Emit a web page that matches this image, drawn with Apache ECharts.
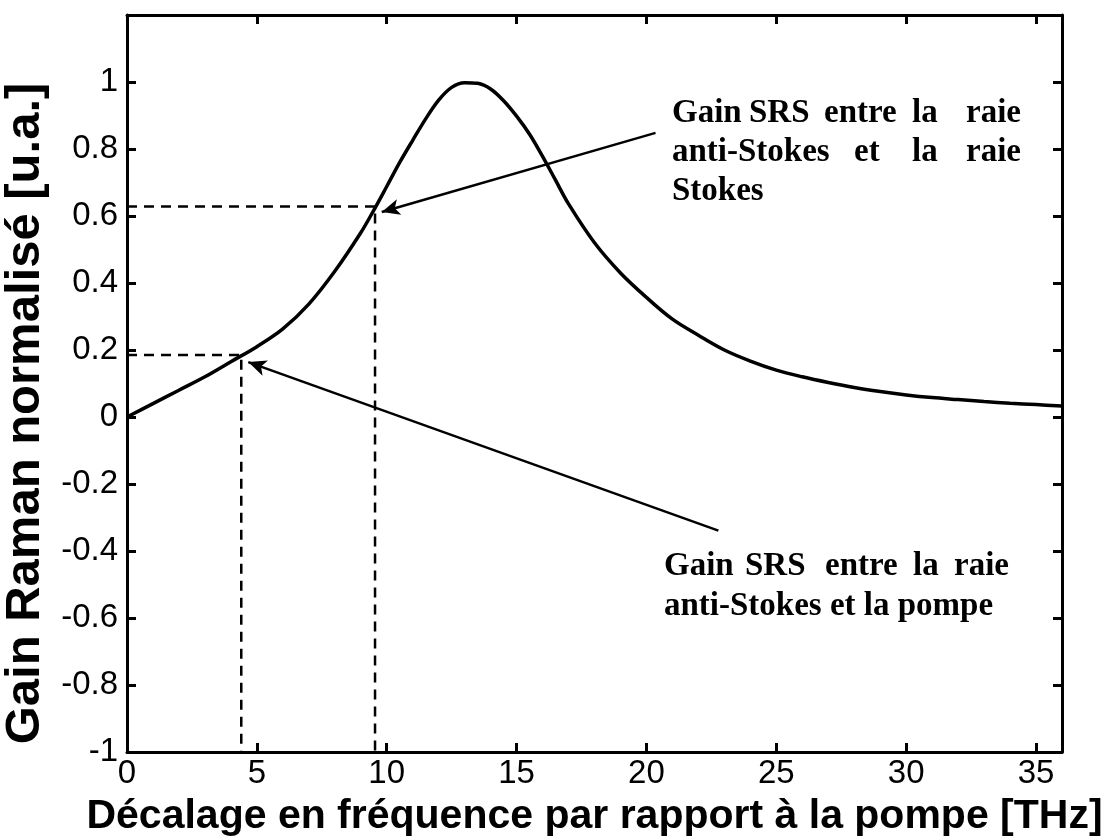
<!DOCTYPE html>
<html>
<head>
<meta charset="utf-8">
<script src="https://cdn.jsdelivr.net/npm/echarts@6/dist/echarts.min.js"></script>
<style>
  html, body { margin: 0; padding: 0; background: #fff; }
  #main { width: 1109px; height: 840px; }
</style>
</head>
<body>
<div id="main"></div>
<script>
var freq = [0, 1, 2, 3, 4, 5, 6, 7, 8, 9, 9.5, 10, 10.5, 11, 11.5, 12, 12.5, 13, 13.5, 14, 14.5, 15, 15.5, 16, 16.5, 17, 18, 19, 20,
  21, 22, 23, 24, 25, 26, 27, 28, 29, 30, 31, 32, 33, 34, 35, 36];
var gain = [0, 0.04, 0.08, 0.12, 0.165, 0.21, 0.263, 0.337, 0.435, 0.55, 0.617, 0.688, 0.76, 0.826, 0.89, 0.946, 0.984, 0.998, 0.996, 0.979, 0.944, 0.898, 0.844, 0.778, 0.707, 0.636, 0.52, 0.43, 0.357,
  0.292, 0.244, 0.2, 0.167, 0.14, 0.12, 0.103, 0.088, 0.076, 0.066, 0.058, 0.052, 0.046, 0.041, 0.037, 0.033];

// lignes pointillées (pompe / Stokes)
var guidePompeX = [0, 4.4, 4.4];
var guidePompeY = [0.185, 0.185, -1];
var guideStokesX = [0, 9.55, 9.55];
var guideStokesY = [0.628, 0.628, -1];

// flèches
var arrowStokesFrom = [20.35, 0.848];
var arrowStokesTo = [9.81, 0.612];
var arrowPompeFrom = [22.77, -0.339];
var arrowPompeTo = [4.67, 0.164];

var xMin = 0, xMax = 36, xStep = 5;
var yMin = -1, yMax = 1.2, yStep = 0.2;

function pairs(xs, ys) {
  return xs.map(function (x, i) { return [x, ys[i]]; });
}

var chart = echarts.init(document.getElementById('main'));

var axisLine = { show: true, onZero: false, lineStyle: { color: '#000', width: 3 } };
var axisTick = { show: true, inside: true, length: 9, lineStyle: { color: '#000', width: 3 } };
var tickFont = { color: '#000', fontFamily: 'Liberation Sans', fontSize: 33 };

var serifBold = 'bold 33px "Liberation Serif"';
function word(t, x, y) {
  return { type: 'text', x: x, y: y, silent: true,
    style: { text: t, font: serifBold, fill: '#000', verticalAlign: 'middle', align: 'left' } };
}

var option = {
  animation: false,
  backgroundColor: '#fff',
  grid: { left: 127, right: 47, top: 15, bottom: 88, containLabel: false, outerBoundsMode: 'none' },
  xAxis: [
    {
      type: 'value', min: xMin, max: xMax, interval: xStep,
      name: 'Décalage en fréquence par rapport à la pompe [THz]',
      nameLocation: 'middle', nameGap: 44,
      nameTextStyle: { color: '#000', fontFamily: 'Liberation Sans', fontWeight: 'bold', fontSize: 41 },
      axisLine: axisLine, axisTick: axisTick,
      axisLabel: Object.assign({ margin: 5, showMaxLabel: false }, tickFont),
      splitLine: { show: false }
    },
    {
      type: 'value', min: xMin, max: xMax, interval: xStep, position: 'top',
      axisLine: axisLine, axisTick: axisTick, axisLabel: { show: false }, splitLine: { show: false }
    }
  ],
  yAxis: [
    {
      type: 'value', min: yMin, max: yMax, interval: yStep,
      name: 'Gain Raman normalisé [u.a.]',
      nameLocation: 'middle', nameGap: 63, nameRotate: 90,
      nameTextStyle: { color: '#000', fontFamily: 'Liberation Sans', fontWeight: 'bold', fontSize: 49,
        padding: [0, 60, 0, 0] },
      axisLine: axisLine, axisTick: axisTick,
      axisLabel: Object.assign({ margin: 9, showMaxLabel: false,
        formatter: function (v) { return String(Math.round(v * 10) / 10); } }, tickFont),
      splitLine: { show: false }
    },
    {
      type: 'value', min: yMin, max: yMax, interval: yStep, position: 'right',
      axisLine: axisLine, axisTick: axisTick, axisLabel: { show: false }, splitLine: { show: false }
    }
  ],
  series: [
    {
      type: 'line', data: pairs(freq, gain), showSymbol: false, smooth: 0.35,
      lineStyle: { color: '#000', width: 3.5 }, z: 5
    },
    {
      type: 'line', data: pairs(guidePompeX, guidePompeY), showSymbol: false,
      lineStyle: { color: '#000', width: 2.5, type: [10, 7] }
    },
    {
      type: 'line', data: pairs(guideStokesX, guideStokesY), showSymbol: false,
      lineStyle: { color: '#000', width: 2.5, type: [10, 7] }
    },
    {
      type: 'line', data: [],
      markLine: {
        silent: true, symbol: ['none', 'arrow'], symbolSize: [12, 18],
        label: { show: false },
        lineStyle: { color: '#000', width: 2.5, type: 'solid' },
        data: [
          [{ coord: arrowStokesFrom }, { coord: arrowStokesTo }],
          [{ coord: arrowPompeFrom }, { coord: arrowPompeTo }]
        ]
      }
    }
  ],
  graphic: [
    // bloc du haut (justifié)
    word('Gain', 672, 113), word('SRS', 749, 113), word('entre', 824, 113), word('la', 912, 113), word('raie', 966, 113),
    word('anti-Stokes', 672, 152), word('et', 854, 152), word('la', 912, 152), word('raie', 966, 152),
    word('Stokes', 672, 191),
    // bloc du bas
    word('Gain', 664, 566), word('SRS', 745, 566), word('entre', 825, 566), word('la', 913, 566), word('raie', 954, 566),
    word('anti-Stokes et la pompe', 664, 606)
  ]
};

chart.setOption(option);
</script>
</body>
</html>
